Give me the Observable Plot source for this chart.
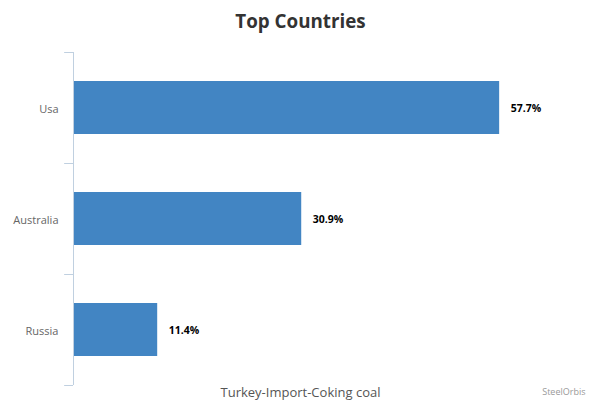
<!DOCTYPE html>
<html>
<head>
<meta charset="utf-8">
<script src="https://cdn.jsdelivr.net/npm/d3@7"></script>
<script src="https://cdn.jsdelivr.net/npm/@observablehq/plot@0.6"></script>
<style>
  body { margin: 0; background: #fff; }
  #chart svg { font-family: "Open Sans", sans-serif; }
</style>
</head>
<body>
<div id="chart"></div>
<script>
const countries = ["Usa", "Australia", "Russia"];
const shares = [57.7, 30.9, 11.4];
const titleText = "Top Countries";
const captionText = "Turkey-Import-Coking coal";
const creditText = "SteelOrbis";

const data = countries.map((c, i) => ({country: c, share: shares[i]}));

const chart = Plot.plot({
  width: 600,
  height: 400,
  marginTop: 52,
  marginBottom: 15,
  marginLeft: 73,
  marginRight: 10,
  style: {fontFamily: "Open Sans, sans-serif", background: "#fff"},
  x: {domain: [0, 70], axis: null},
  y: {domain: countries, paddingInner: 0.52, paddingOuter: 0.26, label: null},
  marks: [
    Plot.barX(data, {x: "share", y: "country", fill: "#4285c3"}),
    Plot.text(data, {
      x: "share", y: "country", text: d => d.share.toFixed(1) + "%",
      textAnchor: "start", dx: 11, dy: 1, fill: "#000", fontWeight: "bold", fontSize: 10.5
    }),
    Plot.axisY({tickSize: 0, tickPadding: 15, fontSize: 11, fill: "#666", dy: 1}),
    Plot.ruleX([0], {stroke: "#c0d0e0"}),
    Plot.ruleY(countries, {y: d => d, dy: -55.5, x1: -1.2, x2: 0, stroke: "#c0d0e0"}),
    Plot.ruleY([countries[countries.length - 1]], {y: d => d, dy: 55.5, x1: -1.2, x2: 0, stroke: "#c0d0e0"}),
    Plot.text([titleText], {
      frameAnchor: "top", text: d => d, dx: -31.5, dy: -38, fontSize: 18.8, fontWeight: "bold", fill: "#333"
    }),
    Plot.text([captionText], {
      frameAnchor: "bottom", text: d => d, dx: -31.5, dy: 11, fontSize: 13, fill: "#555"
    }),
    Plot.text([creditText], {
      frameAnchor: "bottom-right", text: d => d, dx: -5, dy: 9, fontSize: 9, fill: "#999"
    })
  ]
});
document.getElementById("chart").appendChild(chart);
</script>
</body>
</html>
